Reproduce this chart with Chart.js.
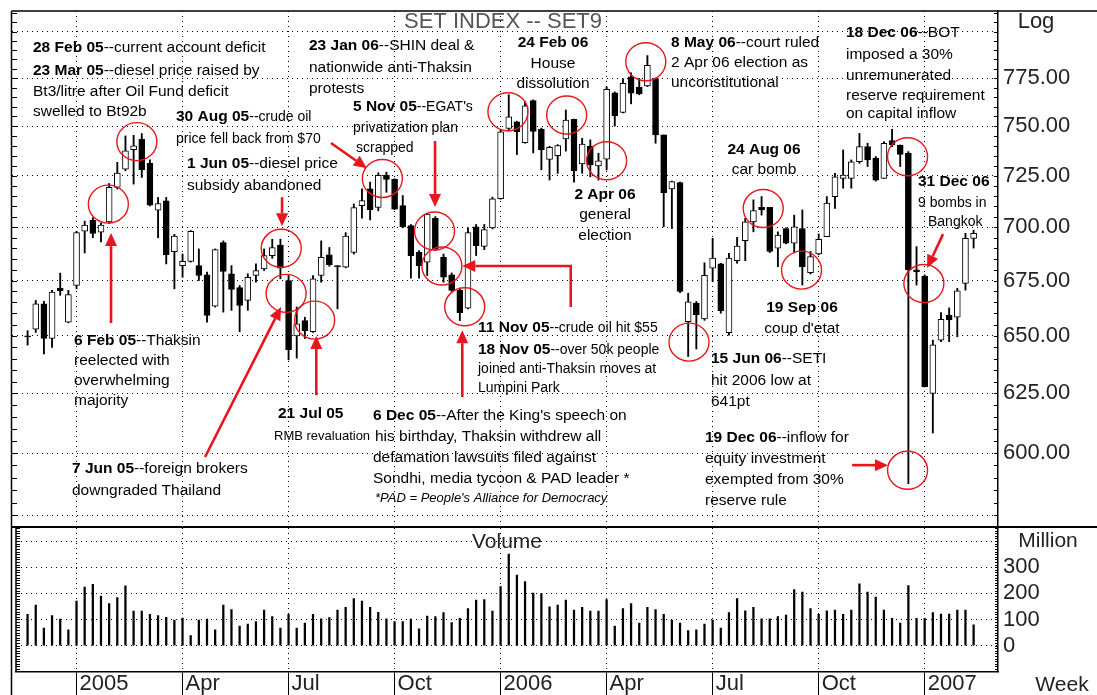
<!DOCTYPE html>
<html>
<head>
<meta charset="utf-8">
<title>SET Index weekly</title>
<script src="https://cdn.jsdelivr.net/npm/chart.js@4.4.0/dist/chart.umd.min.js"></script>
<style>
  html, body { margin: 0; padding: 0; background: #fff; }
  #wrap { position: relative; width: 1097px; height: 695px; overflow: hidden; }
  canvas { position: absolute; left: 0; }
  #price { top: 0; }
  #vol { top: 528px; }
</style>
</head>
<body>
<div id="wrap">
  <canvas id="price" width="1097" height="528"></canvas>
  <canvas id="vol" width="1097" height="167"></canvas>
</div>
<script>
// weekly SET index, index 0 = week of 22 Nov 2004
const open  = [650.0,653.0,664.4,648.8,671.5,656.1,672.7,698.1,703.3,697.7,702.5,719.3,728.3,738.0,743.3,731.2,708.2,712.7,688.4,681.9,
               683.9,681.9,677.6,663.3,692.7,678.1,671.7,665.9,677.3,680.4,686.6,691.5,675.0,650.0,656.8,651.8,677.3,686.9,681.9,681.2,
               688.1,710.4,718.6,709.5,725.2,723.2,710.4,700.8,688.1,683.5,704.3,685.8,677.6,670.5,662.4,700.2,690.9,699.7,713.8,748.8,
               752.2,741.6,763.2,748.4,733.2,735.0,743.5,753.5,730.9,739.9,729.9,733.3,767.3,757.0,775.7,770.2,770.8,774.8,745.5,718.5,
               721.6,656.3,664.7,657.5,680.7,682.7,651.4,684.2,693.6,702.6,709.6,709.6,690.1,699.4,692.4,699.4,678.6,687.4,695.5,714.8,
               723.7,723.7,732.0,739.6,733.8,723.7,742.6,740.4,736.2,680.0,677.1,625.0,648.1,659.3,658.3,673.7,694.7];
const high  = [652.3,665.9,665.5,670.5,678.4,670.5,698.1,702.9,704.6,702.1,721.2,731.7,745.0,745.3,746.2,733.0,714.4,714.4,696.6,687.3,
               698.4,689.7,678.9,689.7,693.5,681.9,672.7,678.1,682.7,689.7,694.3,694.3,677.3,662.9,658.3,677.3,693.5,690.4,681.9,697.4,
               711.2,718.6,721.9,726.5,726.8,723.5,715.3,701.3,688.9,706.7,705.1,687.3,678.5,671.5,699.7,701.3,701.3,714.5,748.0,766.2,
               752.5,762.7,763.6,749.0,739.8,740.6,758.3,753.6,743.8,743.0,736.3,770.5,767.7,774.8,777.8,774.8,787.0,775.0,745.5,722.4,
               721.9,669.2,665.4,683.2,694.7,683.0,687.7,695.2,704.3,713.2,714.8,709.6,697.8,699.7,705.8,708.3,688.5,696.8,714.8,726.2,
               737.9,732.9,746.3,741.3,734.6,742.1,748.4,740.4,737.1,690.8,677.6,648.1,660.4,662.5,671.4,697.1,698.6];
const low   = [645.9,651.5,642.0,644.9,668.2,655.8,671.2,687.8,695.0,693.0,701.8,718.5,727.5,720.9,724.2,710.3,695.0,682.7,671.2,676.5,
               683.5,675.0,656.1,662.9,660.6,661.4,651.8,661.4,674.2,679.6,685.3,675.8,639.4,640.2,648.8,651.5,674.2,681.6,662.1,680.9,
               687.3,704.3,703.5,707.9,716.9,708.4,699.7,676.1,676.1,677.3,688.9,674.2,670.0,656.8,662.1,686.6,689.4,699.2,713.5,747.6,
               735.6,741.3,736.4,728.0,722.9,726.2,737.3,721.9,726.2,724.5,722.9,727.9,750.0,756.8,761.5,766.2,770.5,741.3,700.2,699.4,
               669.4,640.9,644.2,656.9,674.4,660.1,650.3,683.0,684.2,697.8,705.8,688.0,681.4,692.1,687.8,672.9,678.0,686.9,695.5,709.1,
               718.9,718.9,731.2,729.6,722.4,723.7,739.6,729.6,587.6,672.9,627.7,608.3,647.4,647.4,649.6,670.6,690.1];
const close = [649.5,664.4,648.8,669.7,670.3,668.5,697.4,701.0,697.1,701.0,719.3,726.3,737.5,740.0,728.0,710.6,711.4,687.0,695.8,683.9,
               698.1,677.3,659.1,689.4,679.2,670.9,663.6,676.5,679.6,686.6,690.4,680.7,643.9,655.3,652.3,675.8,685.8,682.3,681.3,695.8,
               709.5,712.8,708.4,725.2,723.2,708.7,700.2,686.6,681.9,706.3,689.7,676.5,670.5,660.3,697.4,691.2,698.9,713.7,747.1,754.8,
               747.2,760.4,747.3,738.0,739.2,740.1,753.1,727.6,740.9,730.4,732.5,769.1,755.2,772.2,767.0,766.7,781.8,745.5,716.7,722.1,
               670.0,665.3,659.4,677.4,685.4,661.3,685.4,691.1,702.6,708.0,708.3,688.5,696.3,692.4,700.2,681.4,686.1,694.3,711.6,724.5,
               725.3,732.0,739.6,732.9,722.9,741.3,740.4,735.7,679.9,679.0,627.8,646.0,657.4,657.1,670.3,694.7,697.1];
// million shares
const volume = [120,155,67,115,101,60,170,224,234,189,161,184,229,132,132,120,115,108,98,105,
                38,98,101,60,155,138,75,82,92,136,111,67,120,67,86,120,102,107,136,146,
                180,170,146,127,102,92,92,101,64,113,111,126,88,104,142,174,176,132,226,350,
                270,245,201,199,148,155,174,136,146,132,132,176,75,142,161,86,146,138,120,98,
                86,57,60,82,98,67,126,180,133,146,102,102,111,117,214,205,142,120,133,136,
                120,136,236,205,186,136,104,86,230,104,104,126,121,121,136,136,79];

const quarterWeek  = [6, 19, 32, 45, 58, 71, 84, 97, 110];
const quarterLabel = ['2005', 'Apr', 'Jul', 'Oct', '2006', 'Apr', 'Jul', 'Oct', '2007'];
const priceTicks = [575, 600, 625, 650, 675, 700, 725, 750, 775, 800];
const volTicks   = [0, 100, 200, 300, 400];

// red rings [week, price] and arrows [[week, price], ...] (last point = tip)
const circles = [[13.4,742.1],[9.9,711.1],[31.1,690.0],[31.7,669.1],[35.2,657.0],[43.5,723.7],[49.9,698.2],
                 [50.8,681.7],[53.6,663.0],[58.9,757.4],[66.1,755.7],[71.0,732.5],[75.8,783.7],[81.1,647.2],
                 [90.2,709.0],[94.9,679.8],[107.9,734.5],[109.9,673.6],[107.9,593.0]];
const arrows = [
  [[10.23,655.7],[10.23,697.2]],
  [[21.76,598.4],[31.07,662.9]],
  [[31.2,714.5],[31.2,700.5]],
  [[35.4,624.2],[35.4,649.9]],
  [[37.2,741.4],[41.6,728.8]],
  [[49.96,742.4],[49.96,709.7]],
  [[66.6,662.9],[66.6,681.7],[53.3,681.7]],
  [[53.3,623.4],[53.3,652.5]],
  [[112.25,696.7],[110.3,680.8]],
  [[101.1,595.1],[105.5,595.1]]
];

const notes = [
  { x: 33, y: 48, b: '28 Feb 05', t: '--current account deficit' },
  { x: 33, y: 71, b: '23 Mar 05', t: '--diesel price raised by' },
  { x: 33, y: 92, t: 'Bt3/litre after Oil Fund deficit' },
  { x: 33, y: 112, t: 'swelled to Bt92b' },
  { x: 176, y: 117, b: '30 Aug 05', t: '--crude oil', s: 14 },
  { x: 176, y: 139, t: 'price fell back from $70', s: 14 },
  { x: 187, y: 164, b: '1 Jun 05', t: '--diesel price' },
  { x: 187, y: 186, t: 'subsidy abandoned' },
  { x: 309, y: 46, b: '23 Jan 06', t: '--SHIN deal &' },
  { x: 309, y: 68, t: 'nationwide anti-Thaksin' },
  { x: 309, y: 89, t: 'protests' },
  { x: 353, y: 107, b: '5 Nov 05', t: "--EGAT's", s: 14 },
  { x: 353, y: 128, t: 'privatization plan', s: 14 },
  { x: 356, y: 148, t: 'scrapped', s: 14 },
  { x: 553, y: 43, b: '24 Feb 06', c: true },
  { x: 553, y: 64, t: 'House', c: true },
  { x: 553, y: 84, t: 'dissolution', c: true },
  { x: 671, y: 43, b: '8 May 06', t: '--court ruled' },
  { x: 671, y: 63, t: '2 Apr 06 election as' },
  { x: 671, y: 83, t: 'unconstitutional' },
  { x: 846, y: 33, b: '18 Dec 06', t: '--BOT' },
  { x: 846, y: 55, t: 'imposed a 30%' },
  { x: 846, y: 76, t: 'unremunerated' },
  { x: 846, y: 96, t: 'reserve requirement' },
  { x: 846, y: 114, t: 'on capital inflow' },
  { x: 764, y: 150, b: '24 Aug 06', c: true },
  { x: 764, y: 170, t: 'car bomb', c: true },
  { x: 605, y: 195, b: '2 Apr 06', c: true },
  { x: 605, y: 215, t: 'general', c: true },
  { x: 605, y: 236, t: 'election', c: true },
  { x: 918, y: 182, b: '31 Dec 06' },
  { x: 918, y: 203, t: '9 bombs in', s: 14 },
  { x: 928, y: 222, t: 'Bangkok', s: 14 },
  { x: 74, y: 341, b: '6 Feb 05', t: '--Thaksin' },
  { x: 74, y: 361, t: 'reelected with' },
  { x: 74, y: 381, t: 'overwhelming' },
  { x: 74, y: 401, t: 'majority' },
  { x: 478, y: 328, b: '11 Nov 05', t: '--crude oil hit $55', s: 14 },
  { x: 478, y: 350, b: '18 Nov 05', t: '--over 50k people', s: 14 },
  { x: 478, y: 369, t: 'joined anti-Thaksin moves at', s: 14 },
  { x: 478, y: 388, t: 'Lumpini Park', s: 14 },
  { x: 802, y: 308, b: '19 Sep 06', c: true },
  { x: 802, y: 329, t: "coup d'etat", c: true },
  { x: 711, y: 359, b: '15 Jun 06', t: '--SETI' },
  { x: 711, y: 381, t: 'hit 2006 low at' },
  { x: 711, y: 402, t: '641pt' },
  { x: 278, y: 414, b: '21 Jul 05' },
  { x: 274, y: 436, t: 'RMB revaluation', s: 13 },
  { x: 373, y: 416, b: '6 Dec 05', t: "--After the King's speech on" },
  { x: 375, y: 437, t: 'his birthday, Thaksin withdrew all' },
  { x: 373, y: 458, t: 'defamation lawsuits filed against' },
  { x: 373, y: 479, t: 'Sondhi, media tycoon & PAD leader *' },
  { x: 375, y: 498, t: "*PAD = People's Alliance for Democracy", s: 13, i: true },
  { x: 72, y: 469, b: '7 Jun 05', t: '--foreign brokers' },
  { x: 72, y: 491, t: 'downgraded Thailand' },
  { x: 705, y: 438, b: '19 Dec 06', t: '--inflow for' },
  { x: 705, y: 459, t: 'equity investment' },
  { x: 705, y: 480, t: 'exempted from 30%' },
  { x: 705, y: 501, t: 'reserve rule' }
];

const FONT = '"Liberation Sans", Arial, Helvetica, sans-serif';
const RED = '#e8161c';
const AXIS_FONT = { family: FONT, size: 22 };

// pin the axis boxes so the plot areas land where the original ones are
function fixBox(w, h) {
  return scale => {
    if (w != null) scale.width = w;
    if (h != null) scale.height = h;
    scale.paddingTop = scale.paddingBottom = scale.paddingLeft = scale.paddingRight = 0;
  };
}

function drawNote(ctx, n) {
  const s = n.s || 15.5;
  const bold = `bold 15.5px ${FONT}`;
  const reg = `${n.i ? 'italic ' : ''}${s}px ${FONT}`;
  ctx.font = bold; const wb = n.b ? ctx.measureText(n.b).width : 0;
  ctx.font = reg;  const wt = n.t ? ctx.measureText(n.t).width : 0;
  let x = n.c ? n.x - (wb + wt) / 2 : n.x;
  ctx.textAlign = 'left';
  ctx.textBaseline = 'middle';
  ctx.fillStyle = '#000';
  if (n.b) { ctx.font = bold; ctx.fillText(n.b, x, n.y); x += wb; }
  if (n.t) { ctx.font = reg; ctx.fillText(n.t, x, n.y); }
}

function drawArrow(ctx, pts) {
  const n = pts.length;
  const [x1, y1] = pts[n - 2], [x2, y2] = pts[n - 1];
  const ang = Math.atan2(y2 - y1, x2 - x1);
  const L = 13, W = 6;
  const bx = x2 - L * Math.cos(ang), by = y2 - L * Math.sin(ang);
  ctx.beginPath();
  ctx.moveTo(pts[0][0], pts[0][1]);
  for (let i = 1; i < n - 1; i++) ctx.lineTo(pts[i][0], pts[i][1]);
  ctx.lineTo(bx, by);
  ctx.stroke();
  ctx.beginPath();
  ctx.moveTo(x2, y2);
  ctx.lineTo(bx + W * Math.sin(ang), by - W * Math.cos(ang));
  ctx.lineTo(bx - W * Math.sin(ang), by + W * Math.cos(ang));
  ctx.closePath();
  ctx.fill();
}

function minorTicks(ctx, scale, xEdge, dir, from, to, step, len) {
  for (let v = from; v <= to; v += step) {
    const py = Math.round(scale.getPixelForValue(v)) + 0.5;
    if (py < scale.top || py > scale.bottom) continue;
    ctx.moveTo(xEdge, py);
    ctx.lineTo(xEdge + dir * len, py);
  }
}

const priceDecor = {
  id: 'priceDecor',
  afterDraw(chart) {
    const { ctx, chartArea: a, scales: { x, y } } = chart;
    ctx.save();
    ctx.strokeStyle = '#000';
    ctx.lineWidth = 1.5;
    ctx.beginPath();
    ctx.moveTo(11.5, a.top); ctx.lineTo(1097, a.top);
    ctx.moveTo(11.5, a.top); ctx.lineTo(11.5, 528);
    ctx.stroke();
    ctx.lineWidth = 2;
    ctx.beginPath(); ctx.moveTo(11, 527); ctx.lineTo(1097, 527); ctx.stroke();

    ctx.lineWidth = 1;
    ctx.beginPath();
    minorTicks(ctx, y, a.right, -1, 575, 810, 5, 4);
    minorTicks(ctx, y, a.left, 1, 575, 810, 5, 5);
    ctx.stroke();

    // title and axis caption
    ctx.fillStyle = '#555';
    ctx.font = `22px ${FONT}`;
    ctx.textAlign = 'center';
    ctx.textBaseline = 'middle';
    ctx.fillText('SET INDEX -- SET9', 503, 22);
    ctx.fillStyle = '#222';
    ctx.fillText('Log', 1036, 22);

    // event markers
    ctx.strokeStyle = RED;
    ctx.fillStyle = RED;
    ctx.lineWidth = 1.4;
    circles.forEach(([w, p]) => {
      ctx.beginPath();
      ctx.ellipse(x.getPixelForValue(w), y.getPixelForValue(p), 20, 19, 0, 0, Math.PI * 2);
      ctx.stroke();
    });
    ctx.lineWidth = 2.6;
    arrows.forEach(pts => drawArrow(ctx, pts.map(([w, p]) => [x.getPixelForValue(w), y.getPixelForValue(p)])));

    notes.forEach(n => drawNote(ctx, n));
    ctx.restore();
  }
};

const volDecor = {
  id: 'volDecor',
  afterDraw(chart) {
    const { ctx, chartArea: a, scales: { y } } = chart;
    ctx.save();
    ctx.strokeStyle = '#000';
    ctx.lineWidth = 1.5;
    ctx.beginPath();
    ctx.moveTo(11.5, 0); ctx.lineTo(11.5, 167);
    ctx.moveTo(a.left, a.top); ctx.lineTo(a.left, a.bottom);
    ctx.stroke();
    ctx.lineWidth = 1;
    ctx.beginPath();
    minorTicks(ctx, y, a.right, -1, -100, 450, 10, 3);
    minorTicks(ctx, y, a.left, 1, -100, 450, 10, 4);
    ctx.stroke();

    ctx.fillStyle = '#222';
    ctx.font = `21px ${FONT}`;
    ctx.textAlign = 'center';
    ctx.textBaseline = 'middle';
    ctx.fillText('Volume', 507, 14);
    ctx.fillText('Million', 1048, 13);
    ctx.fillText('Week', 1062, 157);
    ctx.restore();
  }
};

const candleBody = open.map((o, i) => ({ x: i, y: [Math.min(o, close[i]), Math.max(o, close[i])] }));
const candleWick = low.map((l, i) => ({ x: i, y: [l, high[i]] }));
const bodyFill = open.map((o, i) => close[i] >= o ? '#fff' : '#000');

new Chart(document.getElementById('price'), {
  type: 'bar',
  data: {
    datasets: [
      { data: candleBody, backgroundColor: bodyFill, borderColor: '#000', borderWidth: 1,
        borderSkipped: false, barThickness: 6, minBarLength: 1, grouped: false },
      { data: candleWick, backgroundColor: '#000', borderWidth: 0, barThickness: 1.2, grouped: false }
    ]
  },
  options: {
    responsive: false,
    animation: false,
    layout: { padding: { left: 12, top: 11, right: 0, bottom: 0 } },
    plugins: { legend: { display: false }, tooltip: { enabled: false } },
    scales: {
      x: {
        type: 'linear', min: -1.913, max: 118.99, offset: false,
        afterBuildTicks: s => { s.ticks = quarterWeek.map(v => ({ value: v })); },
        afterFit: fixBox(null, 1),
        ticks: { display: false },
        grid: { color: '#000', lineWidth: 1, drawTicks: false, offset: false },
        border: { display: true, color: '#000', width: 2, dash: [1, 4] }
      },
      y: {
        type: 'logarithmic', position: 'right', min: 570.5, max: 811.3, bounds: 'data',
        afterBuildTicks: s => { s.ticks = priceTicks.map(v => ({ value: v })); },
        afterFit: fixBox(99, null),
        ticks: {
          callback: v => (v >= 600 && v <= 775) ? v.toFixed(2) : '',
          font: AXIS_FONT, color: '#222', padding: 5, autoSkip: false
        },
        grid: { color: '#000', lineWidth: 1, drawTicks: false },
        border: { display: true, color: '#000', width: 1.5, dash: [1, 4] }
      }
    }
  },
  plugins: [priceDecor]
});

new Chart(document.getElementById('vol'), {
  type: 'bar',
  data: {
    datasets: [
      { data: volume.map((v, i) => ({ x: i, y: v })), backgroundColor: '#000', borderWidth: 0, barThickness: 1.6 }
    ]
  },
  options: {
    responsive: false,
    animation: false,
    layout: { padding: { left: 16, top: 0, right: 0, bottom: 0 } },
    plugins: { legend: { display: false }, tooltip: { enabled: false } },
    scales: {
      x: {
        type: 'linear', min: -1.42, max: 118.99, offset: false,
        afterBuildTicks: s => { s.ticks = quarterWeek.map(v => ({ value: v })); },
        afterFit: fixBox(null, 23.3),
        ticks: {
          callback: (v, i) => quarterLabel[i],
          font: AXIS_FONT, color: '#222', align: 'start', labelOffset: 3,
          padding: -24, maxRotation: 0, autoSkip: false
        },
        grid: { color: '#000', lineWidth: 1, drawTicks: true, tickLength: 23.3,
                tickColor: '#000', tickWidth: 1, offset: false },
        border: { display: true, color: '#000', width: 1.5, dash: [1, 4] }
      },
      y: {
        type: 'linear', position: 'right', min: -100, max: 450, bounds: 'data',
        afterBuildTicks: s => { s.ticks = volTicks.map(v => ({ value: v })); },
        afterFit: fixBox(99, null),
        ticks: {
          callback: v => v <= 300 ? String(v) : '',
          font: AXIS_FONT, color: '#222', padding: 5, autoSkip: false
        },
        grid: { color: '#000', lineWidth: 1, drawTicks: false },
        border: { display: true, color: '#000', width: 1.5, dash: [1, 4] }
      }
    }
  },
  plugins: [volDecor]
});
</script>
</body>
</html>
